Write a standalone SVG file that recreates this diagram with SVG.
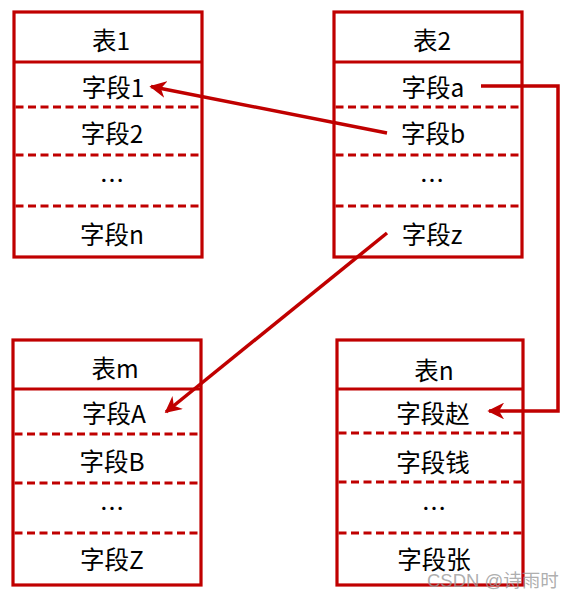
<svg xmlns="http://www.w3.org/2000/svg" width="573" height="599" viewBox="0 0 573 599">
<defs>
<style>
.box{fill:#fff;stroke:#C00000;stroke-width:3.2}
.solid{stroke:#C00000;stroke-width:3.2}
.dash{stroke:#C00000;stroke-width:3;stroke-dasharray:8 4.5}
.t{font-family:"Noto Sans CJK SC","Microsoft YaHei",sans-serif;font-size:24.5px;fill:#000;text-anchor:middle;dominant-baseline:central}
.conn{fill:none;stroke:#C00000;stroke-width:3.5}
.wm{font-family:"Liberation Sans","Noto Sans CJK SC",sans-serif;font-size:18.5px;fill:#999;fill-opacity:0.8}
</style>
<marker id="arr" viewBox="0 0 10 10" refX="9" refY="5" markerWidth="4.8" markerHeight="4.8" markerUnits="strokeWidth" orient="auto">
<path d="M0,0 L10,5 L0,10 L3,5 z" fill="#C00000"/>
</marker>
</defs>
<g id="table1">
<rect class="box" x="14" y="12" width="188" height="245"/>
<line class="solid" x1="14" y1="62" x2="202" y2="62"/>
<line class="dash" x1="15.5" y1="107" x2="200.5" y2="107"/>
<line class="dash" x1="15.5" y1="155" x2="200.5" y2="155"/>
<line class="dash" x1="15.5" y1="206" x2="200.5" y2="206"/>
<text class="t" x="111" y="39">表1</text>
<text class="t" x="113" y="86">字段1</text>
<text class="t" x="112" y="132">字段2</text>
<text class="t" x="112" y="179">…</text>
<text class="t" x="112" y="233">字段n</text>
</g>
<g id="table2">
<rect class="box" x="334" y="12" width="188" height="245"/>
<line class="solid" x1="334" y1="62" x2="522" y2="62"/>
<line class="dash" x1="335.5" y1="107" x2="520.5" y2="107"/>
<line class="dash" x1="335.5" y1="155" x2="520.5" y2="155"/>
<line class="dash" x1="335.5" y1="206" x2="520.5" y2="206"/>
<text class="t" x="432" y="39">表2</text>
<text class="t" x="433" y="86">字段a</text>
<text class="t" x="433" y="132">字段b</text>
<text class="t" x="432" y="179">…</text>
<text class="t" x="432" y="233">字段z</text>
</g>
<g id="tablem">
<rect class="box" x="13" y="340" width="188" height="245"/>
<line class="solid" x1="13" y1="389" x2="201" y2="389"/>
<line class="dash" x1="14.5" y1="434" x2="199.5" y2="434"/>
<line class="dash" x1="14.5" y1="483" x2="199.5" y2="483"/>
<line class="dash" x1="14.5" y1="533" x2="199.5" y2="533"/>
<text class="t" x="115" y="367">表m</text>
<text class="t" x="114" y="412">字段A</text>
<text class="t" x="112" y="460">字段B</text>
<text class="t" x="112" y="507">…</text>
<text class="t" x="112" y="558">字段Z</text>
</g>
<g id="tablen">
<rect class="box" x="337" y="340" width="186" height="245"/>
<line class="solid" x1="337" y1="389" x2="523" y2="389"/>
<line class="dash" x1="338.5" y1="433" x2="521.5" y2="433"/>
<line class="dash" x1="338.5" y1="482" x2="521.5" y2="482"/>
<line class="dash" x1="338.5" y1="533" x2="521.5" y2="533"/>
<text class="t" x="434" y="369">表n</text>
<text class="t" x="433" y="412">字段赵</text>
<text class="t" x="433" y="461">字段钱</text>
<text class="t" x="434" y="507">…</text>
<text class="t" x="434" y="558">字段张</text>
</g>
<g id="connectors">
<line class="conn" x1="387" y1="133" x2="151" y2="86.5" marker-end="url(#arr)"/>
<polyline class="conn" points="481,86 558,86 558,411 489,411" marker-end="url(#arr)"/>
<line class="conn" x1="387" y1="233" x2="166" y2="412" marker-end="url(#arr)"/>
</g>
<text class="wm" x="427" y="587">CSDN @诗雨时</text>
</svg>
